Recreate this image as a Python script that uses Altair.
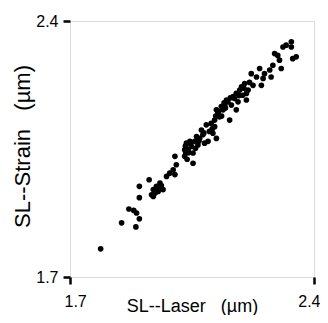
import altair as alt
import pandas as pd

sl_laser = [1.788, 1.848, 1.889, 1.899, 1.869, 1.883, 1.891, 1.899, 1.899, 1.927,
            1.934, 1.939, 1.948, 1.958, 1.967, 1.977, 1.986, 1.996, 2.001, 2.005,
            2.001, 2.029, 2.034, 2.039, 2.048, 2.053, 2.058, 2.067, 2.072, 2.081,
            2.091, 2.096, 2.110, 2.115, 2.120, 2.115, 2.124, 2.120, 2.139, 2.149,
            2.158, 2.163, 2.168, 2.177, 2.177, 2.187, 2.192, 2.201, 2.206, 2.206,
            2.220, 2.225, 2.235, 2.244, 2.249, 2.254, 2.258, 2.273, 2.277, 2.282,
            2.287, 2.296, 2.301, 2.306, 2.311, 2.320, 2.335, 2.335, 2.339, 2.349,
            2.029, 2.044, 2.053, 2.063, 2.077, 2.086, 2.105, 2.129, 2.134, 2.144,
            2.153, 2.172, 2.182, 2.195, 2.211, 1.939, 1.953, 1.958, 2.040, 2.060,
            2.100, 2.135, 2.031, 2.036, 2.046, 2.070, 2.084, 2.108, 2.126, 2.146,
            2.160, 2.185, 2.199, 2.215, 1.944, 1.962, 2.032, 2.118, 2.142]
sl_strain = [1.777, 1.848, 1.837, 1.859, 1.886, 1.882, 1.875, 1.917, 1.948, 1.966,
             1.925, 1.939, 1.948, 1.957, 1.939, 1.975, 1.984, 1.993, 2.030, 2.007,
             1.980, 2.030, 2.066, 2.048, 2.057, 2.011, 2.071, 2.061, 2.079, 2.089,
             2.116, 2.071, 2.093, 2.111, 2.079, 2.129, 2.147, 2.157, 2.157, 2.184,
             2.129, 2.170, 2.193, 2.157, 2.202, 2.211, 2.220, 2.229, 2.184, 2.202,
             2.256, 2.224, 2.247, 2.270, 2.224, 2.243, 2.256, 2.266, 2.247, 2.279,
             2.311, 2.306, 2.293, 2.270, 2.329, 2.334, 2.343, 2.329, 2.297, 2.302,
             2.048, 2.071, 2.039, 2.084, 2.102, 2.066, 2.120, 2.138, 2.166, 2.170,
             2.179, 2.188, 2.179, 2.197, 2.211, 1.920, 1.934, 1.943, 2.040, 2.052,
             2.098, 2.140, 2.058, 2.022, 2.064, 2.072, 2.094, 2.105, 2.152, 2.162,
             2.190, 2.196, 2.216, 2.232, 1.930, 1.950, 2.040, 2.140, 2.176]

df = pd.DataFrame({"laser": sl_laser, "strain": sl_strain})

font = "Liberation Sans"
NB = "\u00a0"

chart = alt.Chart(df).mark_circle(size=32, color="black", opacity=1).encode(
    x=alt.X("laser:Q",
            scale=alt.Scale(domain=[1.7, 2.4], nice=False, zero=False),
            axis=alt.Axis(values=[1.7, 2.4], format=".1f", grid=False, domain=False,
                          tickSize=7, tickWidth=2.5, tickColor="black",
                          labelFontSize=16, labelFont=font, labelColor="black",
                          labelPadding=9, labelFlush=True, labelFlushOffset=6,
                          title="SL--Laser" + NB * 3 + "(µm)", titleFont=font,
                          titleFontSize=18, titleFontWeight="normal", titleColor="black",
                          titleBaseline="alphabetic", titleY=34, titleX=122)),
    y=alt.Y("strain:Q",
            scale=alt.Scale(domain=[1.7, 2.4], nice=False, zero=False),
            axis=alt.Axis(values=[1.7, 2.4], format=".1f", grid=False, domain=False,
                          tickSize=7, tickWidth=2.5, tickColor="black",
                          labelFontSize=16, labelFont=font, labelColor="black",
                          labelPadding=5, labelFlush=False,
                          title="SL--Strain" + NB * 3 + "(µm)", titleFont=font,
                          titleFontSize=22, titleFontWeight="normal", titleColor="black",
                          titleAngle=270, titleAlign="center", titleBaseline="middle",
                          titleX=-48, titleY=125)),
).properties(
    width=244, height=256,
    autosize=alt.AutoSizeParams(type="none"),
    padding={"left": 62, "top": 13, "right": 6, "bottom": 38},
).configure_view(
    stroke="black", strokeWidth=3, fill="white"
).configure(background="white")

chart.save("out.html", embed_options={"renderer": "svg", "actions": False})
